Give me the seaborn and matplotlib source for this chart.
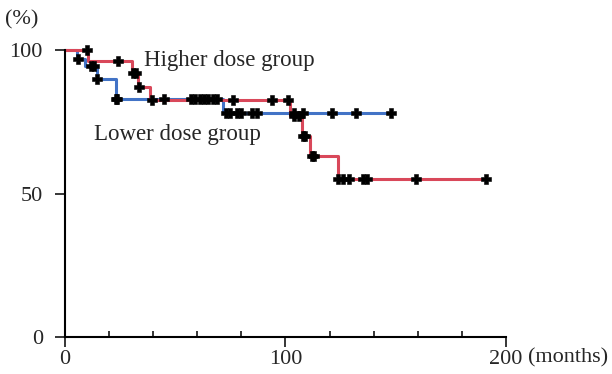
import numpy as np
import pandas as pd
import seaborn as sns
import matplotlib.pyplot as plt

# Kaplan-Meier steps (months, %)
higher_times = [0, 10.4, 30.5, 33, 38.5, 102, 107.5, 111, 124, 191]
higher_surv = [100, 96, 92, 87, 82.5, 77, 70, 63, 55, 55]
higher_censor = [10, 24, 31, 32, 33.5, 39.5, 76, 94, 101, 104, 106, 108, 109,
                 112, 113, 124, 126, 129, 135, 137, 159, 191]

lower_times = [0, 5.5, 9, 14.5, 23, 71.5, 148]
lower_surv = [100, 97, 94.5, 90, 83, 78, 78]
lower_censor = [6, 12, 13, 14.5, 23, 23.5, 45, 57, 59, 61, 63, 65, 67, 69,
                73, 75, 78, 80, 85, 87, 104, 108, 121, 132, 148]

red = "#d9485a"
blue = "#4273c6"

sns.set_style("white")
plt.rcParams['font.family'] = ['Liberation Serif', 'DejaVu Serif']


def step_value(times, surv, t):
    idx = np.searchsorted(times, t, side='right') - 1
    return np.asarray(surv)[idx]


steps = pd.concat([
    pd.DataFrame({'time': lower_times, 'surv': lower_surv, 'group': 'Lower dose group'}),
    pd.DataFrame({'time': higher_times, 'surv': higher_surv, 'group': 'Higher dose group'}),
])
censors = pd.concat([
    pd.DataFrame({'time': lower_censor,
                  'surv': step_value(lower_times, lower_surv, lower_censor)}),
    pd.DataFrame({'time': higher_censor,
                  'surv': step_value(higher_times, higher_surv, higher_censor)}),
])

fig = plt.figure(figsize=(6.12, 3.74), dpi=100)
ax = fig.add_axes([0.1062, 0.0989, 0.7206, 0.7674])

sns.lineplot(data=steps, x='time', y='surv', hue='group',
             palette={'Lower dose group': blue, 'Higher dose group': red},
             drawstyle='steps-post', lw=2.2, legend=False, ax=ax, clip_on=False)
sns.scatterplot(data=censors, x='time', y='surv', marker='P', s=55,
                color='black', edgecolor='black', linewidth=0.4,
                ax=ax, clip_on=False, zorder=5)

ax.set_xlim(0, 200)
ax.set_ylim(0, 100)
ax.set_xlabel('')
ax.set_ylabel('')
ax.set_xticks([0, 100, 200])
ax.set_xticks(np.arange(20, 200, 20), minor=True)
ax.set_yticks([0, 50, 100])
ax.tick_params(axis='x', which='major', direction='out', length=7, width=1.3,
               labelsize=16, pad=2, bottom=True)
ax.tick_params(axis='x', which='minor', direction='in', length=4, width=1.3, bottom=True)
ax.tick_params(axis='y', which='major', direction='out', length=7, width=1.3,
               labelsize=16, pad=9, left=True)
sns.despine(ax=ax)
for side in ['left', 'bottom']:
    ax.spines[side].set_linewidth(1.5)
    ax.spines[side].set_color('black')

ax.text(36, 96.5, 'Higher dose group', fontsize=16.5, va='center', ha='left')
ax.text(13, 70.5, 'Lower dose group', fontsize=16.5, va='center', ha='left')
ax.text(-0.135, 1.105, '(%)', transform=ax.transAxes, fontsize=16, va='center', ha='left')
ax.text(1.05, -0.073, '(months)', transform=ax.transAxes, fontsize=16, va='center', ha='left')

fig.savefig('out.png', dpi=100)
